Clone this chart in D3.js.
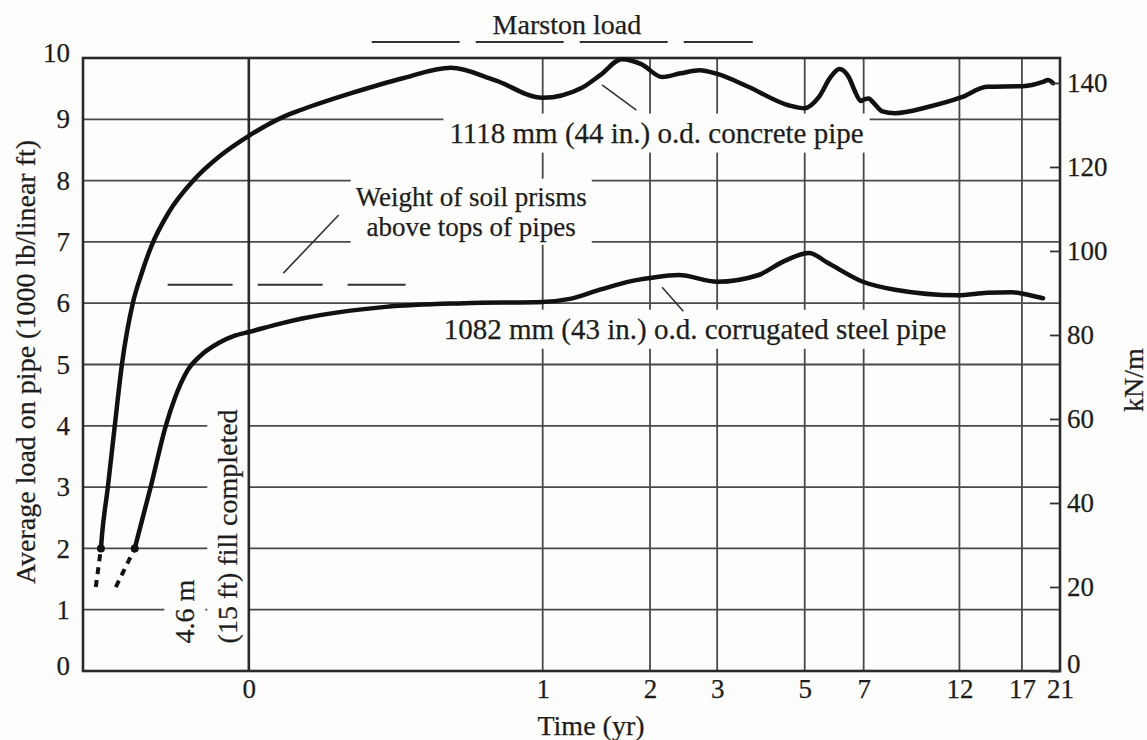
<!DOCTYPE html>
<meta charset="utf-8">

<style>

  html, body {
    margin: 0;
    padding: 0;
    background-color: #fdfdfb;
  }

  svg {
    display: block;
  }

  text {
    font-family: "Liberation Serif", "DejaVu Serif", serif;
    fill: #1d1d1d;
    stroke: #1d1d1d;
    stroke-width: 0.25px;
  }

  .grid line {
    stroke: #4a4a4a;
    stroke-width: 1.8px;
  }

  .curve {
    fill: none;
    stroke: #111;
    stroke-width: 4.5px;
    stroke-linejoin: round;
    stroke-linecap: round;
  }

  .early {
    fill: none;
    stroke: #111;
    stroke-width: 4px;
    stroke-dasharray: 7 6;
  }

  .ref {
    fill: none;
    stroke: #333;
    stroke-width: 2px;
  }

  .leader {
    stroke: #333;
    stroke-width: 1.6px;
  }

</style>

<svg id="chart" width="1147" height="740"></svg>

<script src="https://cdn.jsdelivr.net/npm/d3@7"></script>
<script>

  // time in years after fill was completed (negative = while filling), load in 1000 lb/linear ft
  let xTicks = [0, 1, 2, 3, 5, 7, 12, 17, 21]
  let yTicks = [0, 1, 2, 3, 4, 5, 6, 7, 8, 9, 10]
  let kNTicks = [0, 20, 40, 60, 80, 100, 120, 140]
  let lbToKN = 14.594

  let concreteEarly = [[-0.328, 1.37], [-0.312, 2.0]]
  let concrete = [
    [-0.312, 2.0], [-0.309, 2.2], [-0.291, 3.0], [-0.271, 4.0], [-0.251, 5.0],
    [-0.222, 6.0], [-0.201, 6.46], [-0.177, 6.92], [-0.137, 7.49], [-0.090, 7.99],
    [-0.043, 8.4], [0, 8.73], [0.052, 9.04], [0.085, 9.16], [0.19, 9.43],
    [0.331, 9.67], [0.506, 9.84], [0.711, 9.64], [1.0, 9.35], [1.296, 9.51],
    [1.462, 9.72], [1.679, 9.98], [1.894, 9.9], [2.154, 9.69], [2.413, 9.75],
    [2.704, 9.8], [3.0, 9.74], [3.58, 9.54], [4.55, 9.23], [5.0, 9.18],
    [5.42, 9.36], [5.8, 9.69], [6.1, 9.82], [6.43, 9.69], [6.69, 9.43],
    [6.88, 9.3], [7.05, 9.33], [7.2, 9.34], [7.4, 9.27], [7.78, 9.13],
    [8.36, 9.1], [10.05, 9.2], [12.15, 9.36], [13.98, 9.53], [17.09, 9.54],
    [19.11, 9.61], [19.65, 9.64], [20.2, 9.59]
  ]

  let steelEarly = [[-0.268, 1.37], [-0.217, 2.0]]
  let steel = [
    [-0.217, 2.0], [-0.207, 2.25], [-0.178, 3.0], [-0.144, 4.0], [-0.125, 4.45],
    [-0.1, 4.9], [-0.075, 5.15], [-0.045, 5.35], [-0.02, 5.47], [0, 5.53],
    [0.052, 5.68], [0.085, 5.75], [0.279, 5.94], [0.563, 6.0], [1.0, 6.02],
    [1.2, 6.07], [1.46, 6.22], [1.78, 6.36], [2.0, 6.41], [2.38, 6.46],
    [3.0, 6.35], [3.83, 6.46], [4.39, 6.67], [5.12, 6.82], [5.7, 6.66],
    [6.97, 6.35], [8.36, 6.22], [11.88, 6.13], [13.98, 6.17], [16.09, 6.18],
    [17.77, 6.13], [19.11, 6.08]
  ]

  let marstonLoad = 10.26
  let marstonSpan = [0.24, 3.7]
  let prismLoad = 6.3
  let prismSpan = [-0.14, 0.34]

  let bg = "#fdfdfb"

  let svg = d3.select("#chart")
  svg.append("rect").attr("width", 1147).attr("height", 740).attr("fill", bg)

  let x = d3.scaleSymlog().constant(0.25).domain([-0.37, 21]).range([83, 1060])
  let y = d3.scaleLinear().domain([0, 10]).range([671, 58])
  let yKN = d3.scaleLinear().domain([0, 10 * lbToKN]).range([671, 58])

  // grid
  let grid = svg.append("g").attr("class", "grid")
  grid.selectAll(".v").data(xTicks.filter(d => d > 0 && d < 21)).join("line")
    .attr("x1", d => x(d)).attr("x2", d => x(d))
    .attr("y1", y(0)).attr("y2", y(10))
  grid.selectAll(".h").data(yTicks.filter(d => d > 0 && d < 10)).join("line")
    .attr("class", "h")
    .attr("x1", x.range()[0]).attr("x2", x.range()[1])
    .attr("y1", d => y(d)).attr("y2", d => y(d))

  function backdrop(g, padX, padY) {
    let b = g.node().getBBox()
    g.insert("rect", ":first-child")
      .attr("x", b.x - padX).attr("y", b.y - padY)
      .attr("width", b.width + 2 * padX).attr("height", b.height + 2 * padY)
      .attr("fill", bg)
      .attr("stroke", "none")
  }

  // annotations
  let concreteLabel = svg.append("g")
  concreteLabel.append("text")
    .attr("x", x(0.5)).attr("y", y(8.62))
    .attr("font-size", 29)
    .text("1118 mm (44 in.) o.d. concrete pipe")
  backdrop(concreteLabel, 6, 3)

  let steelLabel = svg.append("g")
  steelLabel.append("text")
    .attr("x", x(0.477)).attr("y", y(5.42))
    .attr("font-size", 29)
    .text("1082 mm (43 in.) o.d. corrugated steel pipe")
  backdrop(steelLabel, 6, 3)

  let prismLabel = svg.append("g")
  prismLabel.selectAll("text")
    .data([["Weight of soil prisms", 7.59], ["above tops of pipes", 7.1]])
    .join("text")
    .attr("x", x(0.595)).attr("y", d => y(d[1]))
    .attr("text-anchor", "middle")
    .attr("font-size", 27)
    .text(d => d[0])
  backdrop(prismLabel, 5, 3)

  let fillLabel = svg.append("g")
  fillLabel.selectAll("g")
    .data([["4.6 m", -0.105], ["(15 ft) fill completed", -0.0305]])
    .join("g")
    .each(function(d) {
      let g = d3.select(this)
      g.append("text")
        .attr("transform", `translate(${x(d[1])},${y(0.45)}) rotate(-90)`)
        .attr("dominant-baseline", "central")
        .attr("font-size", 28)
        .text(d[0])
      backdrop(g, 5, 4)
    })

  // zero line and frame
  svg.append("line")
    .attr("x1", x(0)).attr("x2", x(0)).attr("y1", y(0)).attr("y2", y(10))
    .attr("stroke", "#2a2a2a").attr("stroke-width", 2.6)
  svg.append("rect")
    .attr("x", x.range()[0]).attr("y", y(10))
    .attr("width", x.range()[1] - x.range()[0]).attr("height", y(0) - y(10))
    .attr("fill", "none").attr("stroke", "#2a2a2a").attr("stroke-width", 2.6)

  // reference loads
  svg.append("line").attr("class", "ref")
    .attr("x1", x(marstonSpan[0])).attr("x2", x(marstonSpan[1]))
    .attr("y1", y(marstonLoad)).attr("y2", y(marstonLoad))
    .attr("stroke-dasharray", "88 16")
  svg.append("line").attr("class", "ref")
    .attr("stroke-width", 2.4)
    .attr("x1", x(prismSpan[0])).attr("x2", x(prismSpan[1]))
    .attr("y1", y(prismLoad)).attr("y2", y(prismLoad))
    .attr("stroke-dasharray", "65 25")

  svg.append("text")
    .attr("x", x(1.177)).attr("y", y(10.39))
    .attr("text-anchor", "middle")
    .attr("font-size", 28)
    .text("Marston load")

  // leader lines
  let leaders = [
    [[1.48, 9.56], [1.838, 9.15]],
    [[2.154, 6.26], [2.45, 5.87]],
    [[0.159, 7.44], [0.052, 6.49]]
  ]
  svg.selectAll(".leader").data(leaders).join("line")
    .attr("class", "leader")
    .attr("x1", d => x(d[0][0])).attr("y1", d => y(d[0][1]))
    .attr("x2", d => x(d[1][0])).attr("y2", d => y(d[1][1]))

  // curves
  let line = d3.line()
    .x(d => x(d[0]))
    .y(d => y(d[1]))
    .curve(d3.curveMonotoneX)

  svg.append("path").attr("class", "curve").attr("d", line(concrete))
  svg.append("path").attr("class", "curve").attr("d", line(steel))
  let straight = d3.line().x(d => x(d[0])).y(d => y(d[1]))
  svg.append("path").attr("class", "early").attr("d", straight(concreteEarly))
  svg.append("path").attr("class", "early").attr("d", straight(steelEarly))
  svg.selectAll(".joint").data([concrete[0], steel[0]]).join("circle")
    .attr("cx", d => x(d[0])).attr("cy", d => y(d[1])).attr("r", 4)
    .attr("fill", "#111")

  // axes
  let left = svg.append("g")
    .attr("transform", "translate(70,0)")
    .call(d3.axisLeft(y).tickValues(yTicks).tickSize(0).tickPadding(0))
  left.select(".domain").remove()
  left.selectAll("text").attr("font-size", 27).attr("font-family", null).attr("fill", null)
  left.selectAll(".tick").filter(d => d === 0).select("text").attr("y", -5)
  left.selectAll(".tick").filter(d => d === 10).select("text").attr("y", -5)

  let right = svg.append("g")
    .attr("transform", `translate(${x.range()[1]},0)`)
    .call(d3.axisRight(yKN).tickValues(kNTicks).tickSize(-10).tickPadding(7))
  right.select(".domain").remove()
  right.selectAll("line").attr("stroke", "#333").attr("stroke-width", 1.8)
  right.selectAll("text").attr("font-size", 27).attr("font-family", null).attr("fill", null)
  right.selectAll(".tick").filter(d => d === 0).select("text").attr("y", -7)

  let bottom = svg.append("g")
    .attr("transform", `translate(0,${y(0) + 8})`)
    .call(d3.axisBottom(x).tickValues(xTicks).tickFormat(d3.format("d")).tickSize(0).tickPadding(0))
  bottom.select(".domain").remove()
  bottom.selectAll("text").attr("font-size", 27).attr("font-family", null).attr("fill", null)

  svg.append("text")
    .attr("x", 591).attr("y", 735)
    .attr("text-anchor", "middle")
    .attr("font-size", 28)
    .text("Time (yr)")

  svg.append("text")
    .attr("transform", "translate(25,362) rotate(-90)")
    .attr("text-anchor", "middle")
    .attr("dominant-baseline", "central")
    .attr("font-size", 28)
    .text("Average load on pipe (1000 lb/linear ft)")

  svg.append("text")
    .attr("transform", "translate(1133,380) rotate(-90)")
    .attr("text-anchor", "middle")
    .attr("dominant-baseline", "central")
    .attr("font-size", 28)
    .text("kN/m")

</script>
